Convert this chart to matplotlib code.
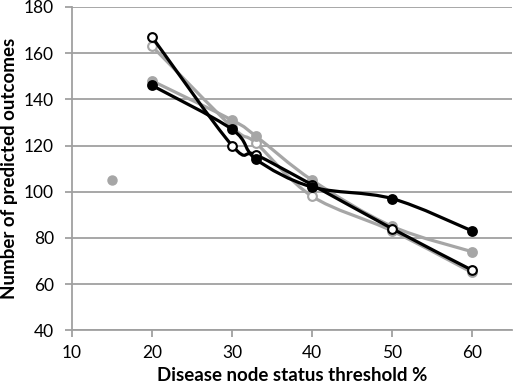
import numpy as np
import matplotlib
matplotlib.use("Agg")
import matplotlib.pyplot as plt
from matplotlib.path import Path
from matplotlib.patches import PathPatch

plt.rcParams['font.family'] = ['Lato', 'DejaVu Sans']

# thresholds (%)
x = [20, 30, 33, 40, 50, 60]

# series values
black_filled = [146, 127, 114, 102, 97, 83]
black_open = [167, 120, 116, 103, 84, 66]
grey_filled = [148, 131, 124, 105, 85, 74]
grey_open = [163, 128, 121, 98, 83, 65]

lone_x = [15]
lone_y = [105]

BLACK = '#000000'
GREY = '#a6a6a6'
GRID = '#a0a0a0'


def smooth_path(xs, ys, k=1 / 6.0):
    # Excel style smoothed line as cubic bezier segments
    pts = np.column_stack([xs, ys]).astype(float)
    n = len(pts)
    verts = [pts[0]]
    codes = [Path.MOVETO]
    for i in range(n - 1):
        p0 = pts[i - 1] if i > 0 else pts[i]
        p1 = pts[i]
        p2 = pts[i + 1]
        p3 = pts[i + 2] if i + 2 < n else pts[i + 1]
        c1 = p1 + (p2 - p0) * k
        c2 = p2 - (p3 - p1) * k
        verts += [c1, c2, p2]
        codes += [Path.CURVE4] * 3
    return Path(verts, codes)


fig = plt.figure(figsize=(5.22, 3.88), dpi=100)
ax = fig.add_axes([0.138, 0.149, 0.843, 0.833])

series = [
    (grey_open, GREY, 'white'),
    (grey_filled, GREY, GREY),
    (black_open, BLACK, 'white'),
    (black_filled, BLACK, BLACK),
]
for z, (ys, col, face) in enumerate(series):
    ax.add_patch(PathPatch(smooth_path(x, ys), facecolor='none', edgecolor=col,
                           lw=2.3, capstyle='round', joinstyle='round', zorder=3 + z))
    ax.plot(x, ys, ls='none', marker='o', ms=6.3, mfc=face, mec=col, mew=1.5, zorder=3 + z)

ax.plot(lone_x, lone_y, ls='none', marker='o', ms=6.5, mfc=GREY, mec=GREY, zorder=3)

ax.set_xlim(10, 65)
ax.set_ylim(40, 180)
ax.set_xticks([10, 20, 30, 40, 50, 60])
ax.set_yticks(range(40, 181, 20))
ax.yaxis.grid(True, color=GRID, lw=1.3)
ax.set_axisbelow(True)

for s in ['top', 'right']:
    ax.spines[s].set_visible(False)
for s in ['left', 'bottom']:
    ax.spines[s].set_color(GRID)
    ax.spines[s].set_linewidth(1.3)

ax.tick_params(axis='both', colors=GRID, length=5, width=1.3, labelsize=12.5,
               labelcolor='black')
ax.tick_params(axis='y', pad=8)
ax.tick_params(axis='x', pad=6)

ax.set_ylabel('Number of predicted outcomes', fontsize=13.5, fontweight='bold')
ax.set_xlabel('Disease node status threshold %', fontsize=13.5, fontweight='bold')
ax.yaxis.set_label_coords(-0.141, 0.5)
ax.xaxis.set_label_coords(0.5, -0.141)
ax.xaxis.label.set_va('center')
ax.yaxis.label.set_va('center')

fig.savefig('out.png', dpi=100)
